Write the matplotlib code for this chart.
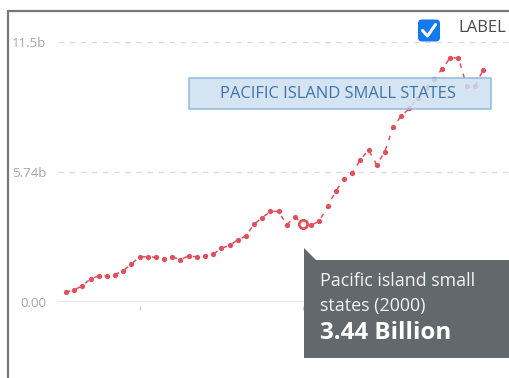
import matplotlib
matplotlib.use("Agg")
import matplotlib.pyplot as plt
from matplotlib.patches import FancyBboxPatch, Polygon, Rectangle

plt.rcParams['font.family'] = ['Open Sans', 'DejaVu Sans']

years = list(range(1971, 2023))
values = [0.44, 0.53, 0.72, 1.02, 1.15, 1.15, 1.21, 1.38, 1.68, 1.99,
          2.00, 1.97, 1.89, 1.99, 1.87, 2.04, 1.99, 2.03, 2.11, 2.37,
          2.50, 2.74, 2.91, 3.44, 3.72, 4.00, 4.00, 3.41, 3.75, 3.44,
          3.39, 3.58, 4.24, 4.89, 5.43, 5.68, 6.28, 6.72, 6.06, 6.64,
          7.74, 8.21, 8.55, 9.01, 9.43, 9.85, 10.29, 10.79, 10.77, 9.54,
          9.52, 10.24]
highlight_year = 2000
highlight_value = 3.44
y_ticks = [0.0, 5.74, 11.48]
y_tick_labels = ["0.00", "5.74b", "11.5b"]
x_ticks = [1980, 2000, 2020]
series_name = "PACIFIC ISLAND SMALL STATES"
tooltip_lines = ["Pacific island small", "states (2000)", "3.44 Billion"]
legend_label = "LABEL"

W, H = 509, 378
fig = plt.figure(figsize=(W / 100, H / 100), dpi=100)

def px_rect(x0, y0, x1, y1):
    return [x0 / W, 1 - y1 / H, (x1 - x0) / W, (y1 - y0) / H]

ax = fig.add_axes(px_rect(58, 42, 509, 302))
ppy = 8.176
ax.set_xlim(1971 - 8 / ppy, 2022 + 26 / ppy)
ax.set_ylim(0, 11.48)
for s in ['top', 'right', 'left']:
    ax.spines[s].set_visible(False)
ax.spines['bottom'].set_position(('outward', 3))
ax.spines['bottom'].set_visible(False)
ax.set_xticks(x_ticks)
ax.set_xticklabels([])
ax.tick_params(axis='x', length=3, width=1, color='#cccccc')
ax.set_yticks(y_ticks)
ax.set_yticklabels(y_tick_labels)
ax.tick_params(axis='y', length=0, pad=8.5, labelsize=9.5, labelcolor='#a8a8a8')
ax.axhline(0, color='#e3e3e3', lw=1.2, zorder=1)
for v in y_ticks[1:]:
    ax.axhline(v, color='#dcdcdc', lw=1, dashes=(4, 4), zorder=1)

red = '#e0505e'
ax.plot(years, values, color=red, lw=1.1, dashes=(3, 4), zorder=3, clip_on=False)
ax.plot(years, values, 'o', color=red, ms=3.8, mec='none', zorder=4, clip_on=False)
ax.plot([highlight_year], [highlight_value], 'o', ms=6, mfc='white', mec=red,
        mew=2, zorder=5, clip_on=False)
ax.patch.set_alpha(0)

# overlay axes in pixel coordinates
ov = fig.add_axes([0, 0, 1, 1])
ov.set_xlim(0, W)
ov.set_ylim(H, 0)
ov.axis('off')
ov.patch.set_alpha(0)

# frame
ov.plot([8, 8], [10, H], color='#777777', lw=1.6, solid_capstyle='butt')
ov.plot([8, W], [10.5, 10.5], color='#777777', lw=1.6, solid_capstyle='butt')

# series label box
ov.add_patch(Rectangle((189, 78), 302, 30.5, facecolor='#cde0f2', alpha=0.85,
                       edgecolor='#8db6db', lw=1.2, zorder=6))
ov.text(338, 93.5, series_name, ha='center', va='center', fontsize=11.9,
        color='#3f73a6', zorder=7)

# checkbox legend
ov.add_patch(FancyBboxPatch((418, 19.5), 22, 22, boxstyle='round,pad=0,rounding_size=4',
                            facecolor='#1479f0', edgecolor='none', zorder=6))
ov.plot([422.5, 427.5, 435.5], [30.5, 36, 24.5], color='white', lw=2.2,
        solid_capstyle='round', solid_joinstyle='round', zorder=7)
ov.text(458, 27.5, legend_label, ha='left', va='center', fontsize=12, color='#4a4a4a')

# tooltip
ov.add_patch(Polygon([(304, 248), (316, 260), (W + 2, 260), (W + 2, 358), (304, 358)],
                     closed=True, facecolor='#63686c', edgecolor='none', zorder=8))
ov.text(320, 281, tooltip_lines[0], ha='left', va='center', fontsize=12.9,
        color='#f2f2f2', zorder=9)
ov.text(320, 306, tooltip_lines[1], ha='left', va='center', fontsize=12.9,
        color='#f2f2f2', zorder=9)
ov.text(320, 333, tooltip_lines[2], ha='left', va='center', fontsize=17.5,
        fontweight='bold', color='white', zorder=9)

fig.savefig('out.png', dpi=100)
